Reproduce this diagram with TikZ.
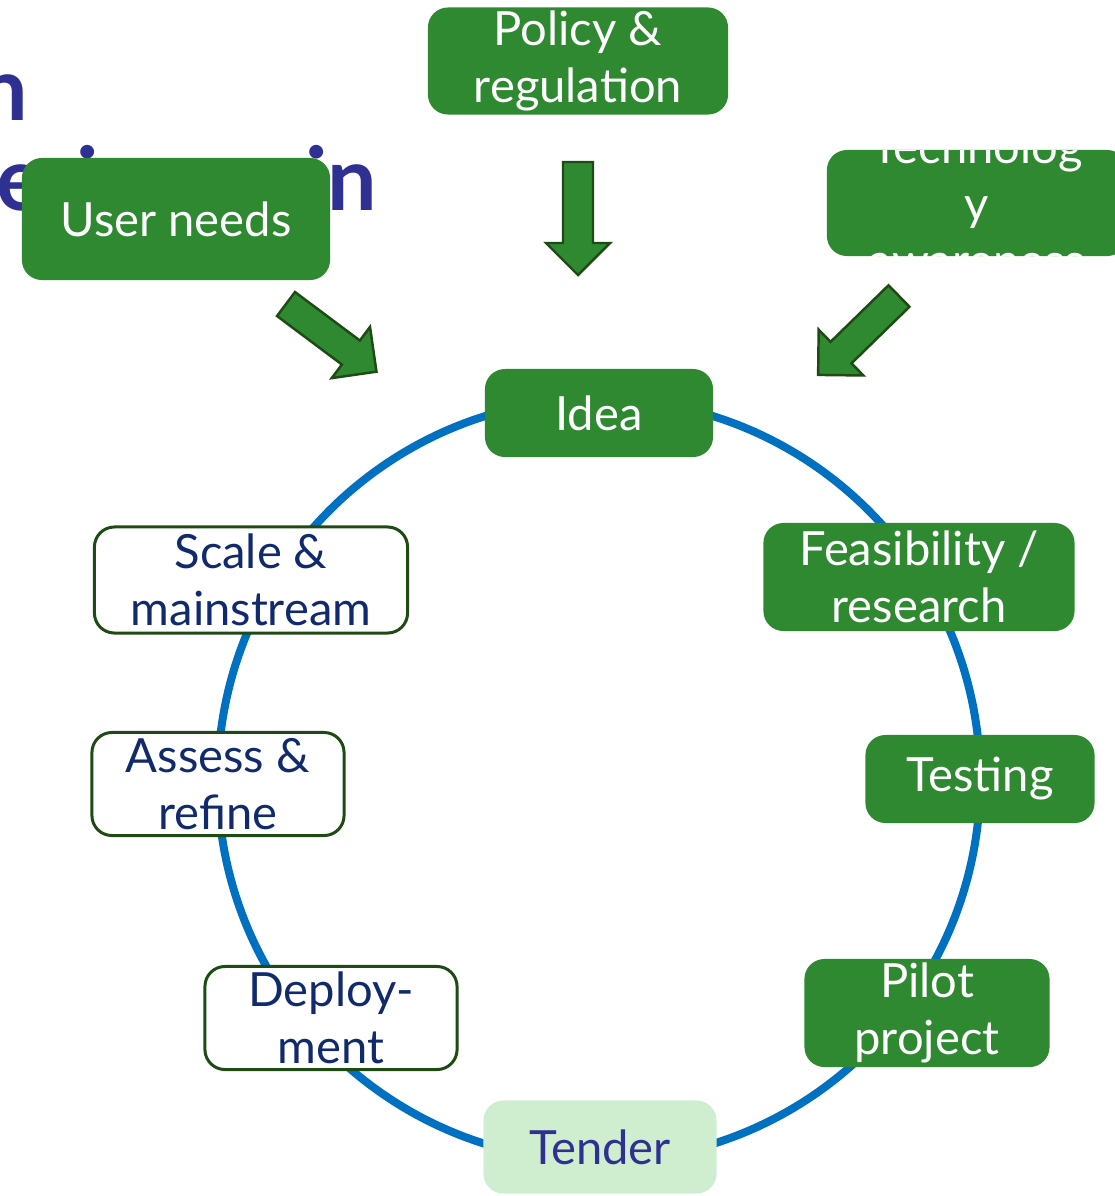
\documentclass[tikz,border=0pt]{standalone}
\usepackage{amssymb}
\usepackage{amsmath}
\usepackage{xcolor}
\usepackage{fontspec}
\usepackage{tikz}
\setmainfont{Lato}

\definecolor{stepgreen}{HTML}{2E8931}
\definecolor{darkrim}{HTML}{1E4A14}
\definecolor{ringblue}{HTML}{0070C0}
\definecolor{navytext}{HTML}{102A6C}
\definecolor{titleblue}{HTML}{2E3192}
\definecolor{palegreen}{HTML}{CFEECF}

\newcommand{\stepfont}{\fontsize{13.4pt}{16.2pt}\selectfont}
\newcommand{\bigarrow}[2]{%
  \filldraw[fat arrow,shift={#1},rotate=#2]
    (0,15) -- (81,15) -- (81,32) -- (113,0) -- (81,-32) -- (81,-15) -- (0,-15) -- cycle;}

\begin{document}
\begin{tikzpicture}[x=0.01cm,y=-0.01cm,
   green step/.style={rectangle,rounded corners=0.2cm,fill=stepgreen,text=white,
     align=center,font=\stepfont,inner sep=0pt},
   open step/.style={rectangle,rounded corners=0.2cm,draw=darkrim,line width=0.85pt,
     fill=white,text=navytext,align=center,font=\stepfont,inner sep=0pt},
   tender step/.style={rectangle,rounded corners=0.2cm,fill=palegreen,text=titleblue,
     align=center,font=\stepfont,inner sep=0pt},
   title text/.style={text=titleblue,font=\fontsize{25pt}{30pt}\selectfont\bfseries,inner sep=0pt},
   fat arrow/.style={fill=stepgreen,draw=darkrim,line width=0.7pt},
   ring/.style={draw=ringblue,line width=0.08cm}]

  \clip (0,0) rectangle (1115,1196);

  % title, mostly hidden
  \node[title text,anchor=base east] (title one) at (28,120) {Innovation};
  \node[title text,anchor=base east] (title two) at (378,210) {experience in};

  % the cycle
  \coordinate (hub) at (599,780);
  \draw[ring] (hub) circle[radius=3.81cm];

  % inputs
  \node[green step,minimum width=3.00cm,minimum height=1.07cm] (policy) at (578,61) {Policy \&\\regulation};
  \node[green step,minimum width=3.08cm,minimum height=1.22cm] (user) at (176,219) {User needs};
  \node[green step,minimum width=3.00cm,minimum height=1.06cm] (technology) at (977,203) {};
  \begin{scope}
    \clip (800,150) rectangle (1130,262);
    \node[text=white,align=center,font=\stepfont,inner sep=0pt] (technology text) at (technology.center) {Technolog\\y\\awareness};
  \end{scope}

  \bigarrow{(578,162)}{-90}
  \bigarrow{(286,304)}{-36.8}
  \bigarrow{(899,296)}{-135.7}

  % steps
  \node[green step,minimum width=2.28cm,minimum height=0.88cm] (idea) at (599,413) {Idea};
  \node[green step,minimum width=3.11cm,minimum height=1.08cm] (feasibility) at (919,577) {Feasibility /\\research};
  \node[green step,minimum width=2.29cm,minimum height=0.88cm] (testing) at (980,779) {Testing};
  \node[green step,minimum width=2.45cm,minimum height=1.08cm] (pilot) at (927,1013) {Pilot\\project};
  \node[tender step,minimum width=2.33cm,minimum height=0.93cm] (tender) at (600,1147) {Tender};
  \node[open step,minimum width=2.52cm,minimum height=1.03cm] (deployment) at (331,1018) {Deploy-\\ment};
  \node[open step,minimum width=2.52cm,minimum height=1.03cm] (assess) at (218,784) {Assess \&\\refine};
  \node[open step,minimum width=3.13cm,minimum height=1.06cm] (scale) at (251,580) {Scale \&\\mainstream};
\end{tikzpicture}
\end{document}
